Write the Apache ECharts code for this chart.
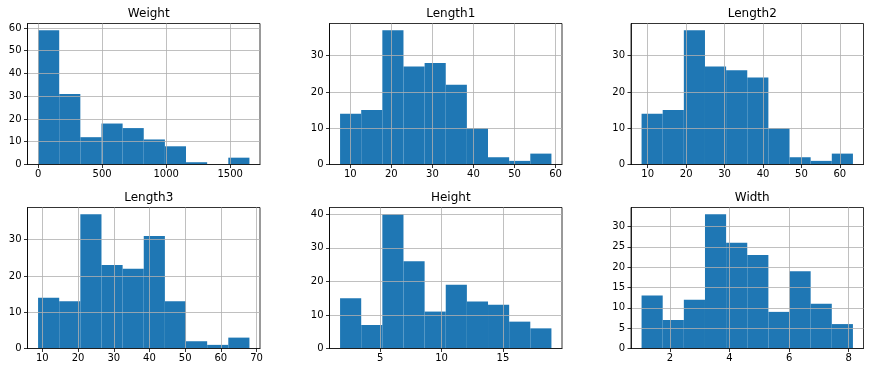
<!DOCTYPE html>
<html>
<head>
<meta charset="utf-8">
<script src="https://cdn.jsdelivr.net/npm/echarts@6/dist/echarts.min.js"></script>
<style>
html,body{margin:0;padding:0;background:#fff;}
#chart{width:871px;height:373px;}
</style>
</head>
<body>
<div id="chart"></div>
<script>
// ---- data ----
const titles = ['Weight', 'Length1', 'Length2', 'Length3', 'Height', 'Width'];
const dataMin = [0, 7.5, 8.4, 8.8, 1.7284, 1.0476];
const dataMax = [1650, 59, 63.4, 68.0, 18.957, 8.142];
const countsWeight  = [59, 31, 12, 18, 16, 11, 8, 1, 0, 3];
const countsLength1 = [14, 15, 37, 27, 28, 22, 10, 2, 1, 3];
const countsLength2 = [14, 15, 37, 27, 26, 24, 10, 2, 1, 3];
const countsLength3 = [14, 13, 37, 23, 22, 31, 13, 2, 1, 3];
const countsHeight  = [15, 7, 40, 26, 11, 19, 14, 13, 8, 6];
const countsWidth   = [13, 7, 12, 33, 26, 23, 9, 19, 11, 6];
const counts = [countsWeight, countsLength1, countsLength2, countsLength3, countsHeight, countsWidth];
const xTicksWeight  = [0, 500, 1000, 1500];
const xTicksLength1 = [10, 20, 30, 40, 50, 60];
const xTicksLength2 = [10, 20, 30, 40, 50, 60];
const xTicksLength3 = [10, 20, 30, 40, 50, 60, 70];
const xTicksHeight  = [5, 10, 15];
const xTicksWidth   = [2, 4, 6, 8];
const xTicks = [xTicksWeight, xTicksLength1, xTicksLength2, xTicksLength3, xTicksHeight, xTicksWidth];
const yTicksWeight  = [0, 10, 20, 30, 40, 50, 60];
const yTicksLength1 = [0, 10, 20, 30];
const yTicksLength2 = [0, 10, 20, 30];
const yTicksLength3 = [0, 10, 20, 30];
const yTicksHeight  = [0, 10, 20, 30, 40];
const yTicksWidth   = [0, 5, 10, 15, 20, 25, 30];
const yTicks = [yTicksWeight, yTicksLength1, yTicksLength2, yTicksLength3, yTicksHeight, yTicksWidth];

// ---- layout ----
const lefts = [27.5, 329.5, 631];
const tops = [23.5, 207.5];
const W = 232.5, H = 141;
const FONT = 'DejaVu Sans';
const fmt = v => String(v);

const grids = [], xAxes = [], yAxes = [], series = [], titleOpts = [];
for (let i = 0; i < 6; i++) {
  const col = i % 3, row = Math.floor(i / 3);
  const lo = dataMin[i], hi = dataMax[i];
  const nb = counts[i].length;
  const step = (hi - lo) / nb;
  const pad = (hi - lo) * 0.05;
  const ymax = Math.max(...counts[i]) * 1.05;
  grids.push({left: lefts[col], top: tops[row], width: W, height: H,
    show: true, borderColor: '#000', borderWidth: 0.8, backgroundColor: '#fff', containLabel: false});
  const axisCommon = {
    gridIndex: i, type: 'value', z: 5,
    axisLine: {show: true, onZero: false, lineStyle: {color: '#000', width: 0.8}},
    splitLine: {show: true, lineStyle: {color: '#b0b0b0', width: 0.8}},
  };
  xAxes.push(Object.assign({}, axisCommon, {
    min: lo - pad, max: hi + pad,
    axisTick: {show: true, inside: false, length: 3.5, lineStyle: {color: '#000', width: 0.8}, customValues: xTicks[i]},
    axisLabel: {show: true, margin: 5, color: '#000', fontSize: 10, fontFamily: FONT, customValues: xTicks[i],
      formatter: fmt, showMinLabel: true, showMaxLabel: true, hideOverlap: false}
  }));
  yAxes.push(Object.assign({}, axisCommon, {
    min: 0, max: ymax,
    axisTick: {show: true, inside: false, length: 3.5, lineStyle: {color: '#000', width: 0.8}, customValues: yTicks[i]},
    axisLabel: {show: true, margin: 6, color: '#000', fontSize: 10, fontFamily: FONT, customValues: yTicks[i],
      formatter: fmt, showMinLabel: true, showMaxLabel: true, hideOverlap: false}
  }));
  const data = counts[i].map((c, k) => [lo + k * step, lo + (k + 1) * step, c]);
  series.push({
    type: 'custom', xAxisIndex: i, yAxisIndex: i, z: 2,
    encode: {x: [0, 1], y: 2},
    data: data,
    renderItem: function (params, api) {
      const p0 = api.coord([api.value(0), api.value(2)]);
      const p1 = api.coord([api.value(1), 0]);
      return {type: 'rect', shape: {x: p0[0], y: p0[1], width: p1[0] - p0[0], height: p1[1] - p0[1]},
        style: {fill: '#1f77b4'}};
    },
    silent: true, animation: false
  });
  titleOpts.push({text: titles[i], left: lefts[col] + W / 2, top: tops[row] - 21, textAlign: 'center',
    textStyle: {fontSize: 12, fontWeight: 'normal', color: '#000', fontFamily: FONT}});
}

const chart = echarts.init(document.getElementById('chart'), null, {renderer: 'canvas'});
chart.setOption({
  animation: false,
  backgroundColor: '#fff',
  title: titleOpts,
  grid: grids,
  xAxis: xAxes,
  yAxis: yAxes,
  series: series
});
</script>
</body>
</html>
